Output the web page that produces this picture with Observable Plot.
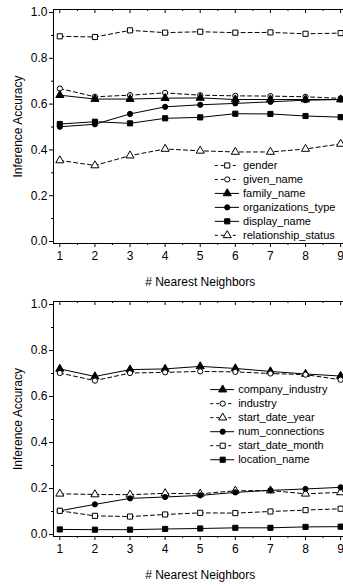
<!DOCTYPE html>
<html><head><meta charset="utf-8">
<script src="https://cdn.jsdelivr.net/npm/d3@7"></script>
<script src="https://cdn.jsdelivr.net/npm/@observablehq/plot@0.6"></script>
<style>
body{margin:0;background:#fff;}
#wrap{width:343px;height:586px;overflow:hidden;position:relative;background:#fff;}
#wrap svg{display:block;overflow:hidden;max-width:none;}
</style></head><body><div id="wrap"></div>
<script>
// ---- data ----
const neighbors = [1, 2, 3, 4, 5, 6, 7, 8, 9];
const yTicks = [0, 0.2, 0.4, 0.6, 0.8, 1.0];
const yMinor = [0.1, 0.3, 0.5, 0.7, 0.9];
const xMinor = [1.5, 2.5, 3.5, 4.5, 5.5, 6.5, 7.5, 8.5];
const xTitle = "# Nearest Neighbors";
const yTitle = "Inference Accuracy";

// top panel
const topNames = ["gender", "given_name", "family_name", "organizations_type", "display_name", "relationship_status"];
const gender = [0.896, 0.893, 0.922, 0.912, 0.916, 0.912, 0.913, 0.907, 0.910];
const given_name = [0.668, 0.632, 0.639, 0.649, 0.639, 0.636, 0.635, 0.632, 0.625];
const family_name = [0.639, 0.622, 0.622, 0.626, 0.627, 0.620, 0.620, 0.620, 0.620];
const organizations_type = [0.501, 0.512, 0.557, 0.588, 0.597, 0.603, 0.610, 0.617, 0.620];
const display_name = [0.513, 0.523, 0.516, 0.538, 0.542, 0.558, 0.557, 0.548, 0.543];
const relationship_status = [0.354, 0.332, 0.375, 0.404, 0.396, 0.391, 0.391, 0.404, 0.426];

// bottom panel
const bottomNames = ["company_industry", "industry", "start_date_year", "num_connections", "start_date_month", "location_name"];
const company_industry = [0.720, 0.687, 0.717, 0.720, 0.731, 0.722, 0.709, 0.698, 0.689];
const industry = [0.702, 0.669, 0.702, 0.705, 0.709, 0.707, 0.700, 0.695, 0.673];
const start_date_year = [0.177, 0.174, 0.173, 0.179, 0.177, 0.190, 0.191, 0.177, 0.183];
const num_connections = [0.103, 0.131, 0.157, 0.163, 0.170, 0.183, 0.192, 0.198, 0.205];
const start_date_month = [0.103, 0.081, 0.078, 0.087, 0.094, 0.093, 0.100, 0.106, 0.112];
const location_name = [0.022, 0.021, 0.021, 0.024, 0.026, 0.029, 0.029, 0.033, 0.034];

const seriesValues = {gender, given_name, family_name, organizations_type, display_name, relationship_status,
  company_industry, industry, start_date_year, num_connections, start_date_month, location_name};

// ---- styles ----
const styles = {
  gender: {symbol: "square", open: true, dashed: true},
  given_name: {symbol: "circle", open: true, dashed: true},
  family_name: {symbol: "triangle", open: false, dashed: false},
  organizations_type: {symbol: "circle", open: false, dashed: false},
  display_name: {symbol: "square", open: false, dashed: false},
  relationship_status: {symbol: "triangle", open: true, dashed: true},
  company_industry: {symbol: "triangle", open: false, dashed: false},
  industry: {symbol: "circle", open: true, dashed: true},
  start_date_year: {symbol: "triangle", open: true, dashed: true},
  num_connections: {symbol: "circle", open: false, dashed: false},
  start_date_month: {symbol: "square", open: true, dashed: true},
  location_name: {symbol: "square", open: false, dashed: false}
};

const FONT = "'Liberation Sans', Arial, sans-serif";
const PXU = 229;           // pixels per unit of accuracy
const XPX = 35.1;          // pixels per neighbor
const symR = s => s === "circle" ? 2.6 : s === "triangle" ? 3.0 : 2.9;

function chart(names, cfg) {
  const height = 293;
  const yMax = 1.0 + (cfg.y1px - cfg.frameTop) / PXU;
  const yMin = -(cfg.frameBottom - cfg.y0px) / PXU;
  const marginTop = cfg.frameTop;
  const marginBottom = height - cfg.frameBottom;
  const xMin = 0.82, xMax = 9.18;
  const marginLeft = 53;
  const marginRight = 343 - (marginLeft + (xMax - xMin) * XPX);
  const rows = names.map(name => neighbors.map((k, i) => ({name, k, v: seriesValues[name][i]})));
  const marks = [];
  marks.push(Plot.frame({stroke: "black", strokeWidth: 1}));
  rows.forEach((r, j) => {
    const s = styles[names[j]];
    marks.push(Plot.line(r, {x: "k", y: "v", stroke: "black", strokeWidth: 1,
      strokeDasharray: s.dashed ? "4,3" : null}));
  });
  rows.forEach((r, j) => {
    const s = styles[names[j]];
    marks.push(Plot.dot(r, {x: "k", y: "v", symbol: s.symbol, r: symR(s.symbol),
      fill: s.open ? "white" : "black", stroke: "black", strokeWidth: 1}));
  });
  // legend
  names.forEach((name, i) => {
    const s = styles[name];
    const ly = cfg.legY - i * cfg.legStep;
    marks.push(Plot.ruleY([ly], {y: d => d, x1: cfg.legX1, x2: cfg.legX2, stroke: "black", strokeWidth: 1,
      strokeDasharray: s.dashed ? "3,3" : null}));
    marks.push(Plot.dot([ly], {y: d => d, x: () => cfg.legXM, symbol: s.symbol, r: symR(s.symbol),
      fill: s.open ? "white" : "black", stroke: "black", strokeWidth: 1}));
    marks.push(Plot.text([name], {text: d => d, x: () => cfg.legXT, y: () => ly, textAnchor: "start",
      fontSize: 11, fill: "black", fontFamily: FONT}));
  });
  // axes
  marks.push(Plot.axisY({ticks: yTicks, tickSize: 4, tickPadding: 2, tickFormat: d3.format(".1f"),
    fontSize: 12, label: yTitle, labelAnchor: "center", labelOffset: 40, labelArrow: "none"}));
  marks.push(Plot.axisY({ticks: yMinor, tickSize: 2, tickFormat: () => "", label: null}));
  marks.push(Plot.axisX({ticks: neighbors, tickSize: 4, tickPadding: 4, tickFormat: d3.format("d"),
    fontSize: 12, label: xTitle, labelAnchor: "center", labelOffset: 42, labelArrow: "none"}));
  marks.push(Plot.axisX({ticks: xMinor, tickSize: 2, tickFormat: () => "", label: null}));
  marks.push(Plot.ruleX(neighbors, {x: d => d, y1: yMax, y2: yMax - 4 / PXU, stroke: "black"}));
  marks.push(Plot.ruleX(xMinor, {x: d => d, y1: yMax, y2: yMax - 2 / PXU, stroke: "black"}));
  return Plot.plot({
    width: 343, height, marginLeft, marginRight, marginTop, marginBottom,
    style: {fontFamily: FONT, fontSize: "12px", color: "black", background: "white"},
    x: {domain: [xMin, xMax]},
    y: {domain: [yMin, yMax]},
    marks
  });
}

const wrap = document.getElementById("wrap");
wrap.appendChild(chart(topNames, {
  frameTop: 9, frameBottom: 243, y1px: 12, y0px: 241,
  legX1: 5.43, legX2: 6.12, legXM: 5.77, legXT: 6.22, legY: 0.332, legStep: 0.061
}));
wrap.appendChild(chart(bottomNames, {
  frameTop: 8, frameBottom: 243, y1px: 11, y0px: 241,
  legX1: 5.3, legX2: 5.98, legXM: 5.64, legXT: 6.08, legY: 0.630, legStep: 0.061
}));
</script></body></html>
